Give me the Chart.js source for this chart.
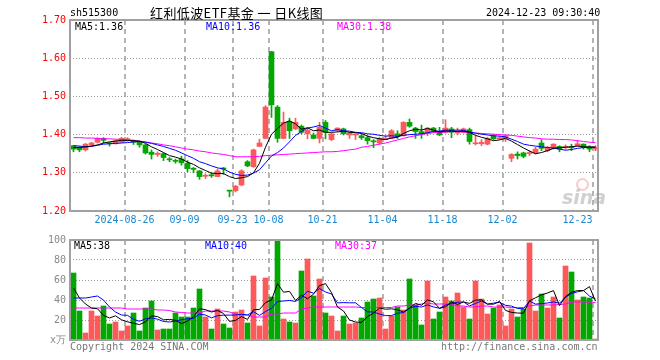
<!DOCTYPE html>
<html>
<head>
<meta charset="utf-8">
<script src="https://cdn.jsdelivr.net/npm/chart.js@4"></script>
<style>
  body { margin: 0; background: #fff; width: 660px; height: 360px; overflow: hidden; position: relative; }
  canvas { position: absolute; left: 0; }
  .t { position: absolute; white-space: nowrap; font: 10px/12px "DejaVu Sans Mono", monospace; }
  .cn { font: 13px/16px "Noto Sans CJK SC", sans-serif; letter-spacing: 0.4px; }
</style>
</head>
<body>
<canvas id="kline" width="660" height="230" style="top:0"></canvas>
<canvas id="volume" width="660" height="130" style="top:230px"></canvas>

<div class="t" style="left:70px;top:7px">sh515300</div>
<div class="t cn" style="left:150px;top:5px">红利低波ETF基金 一 日K线图</div>
<div class="t" style="left:486px;top:7px">2024-12-23 09:30:40</div>
<div class="t" style="left:75px;top:21px;color:#000">MA5:1.36</div>
<div class="t" style="left:206px;top:21px;color:#0000ff">MA10:1.36</div>
<div class="t" style="left:337px;top:21px;color:#ff00ff">MA30:1.38</div>
<div class="t" style="left:74px;top:240px;color:#000">MA5:38</div>
<div class="t" style="left:205px;top:240px;color:#0000ff">MA10:40</div>
<div class="t" style="left:335px;top:240px;color:#ff00ff">MA30:37</div>
<div class="t" style="left:70px;top:341px;color:#777">Copyright 2024 SINA.COM</div>
<div class="t" style="left:441px;top:341px;color:#777">http://finance.sina.com.cn</div>
<div class="t" style="left:576px;top:178px;width:9px;height:9px;border:2px solid rgba(240,140,140,0.45);border-radius:50%"></div>
<div class="t" style="left:562px;top:187px;font:italic bold 19px/20px 'DejaVu Sans',sans-serif;color:rgba(150,150,150,0.45)">sina</div>

<script>
// trading days shown (2024)
const days = [
  '08-13','08-14','08-15','08-16','08-19','08-20','08-21','08-22','08-23','08-26','08-27','08-28','08-29','08-30',
  '09-02','09-03','09-04','09-05','09-06','09-09','09-10','09-11','09-12','09-13','09-18','09-19','09-20',
  '09-23','09-24','09-25','09-26','09-27','09-30',
  '10-08','10-09','10-10','10-11','10-14','10-15','10-16','10-17','10-18','10-21','10-22','10-23','10-24','10-25',
  '10-28','10-29','10-30','10-31',
  '11-01','11-04','11-05','11-06','11-07','11-08','11-11','11-12','11-13','11-14','11-15','11-18','11-19','11-20',
  '11-21','11-22','11-25','11-26','11-27','11-28','11-29',
  '12-02','12-03','12-04','12-05','12-06','12-09','12-10','12-11','12-12','12-13','12-16','12-17','12-18','12-19',
  '12-20','12-23'
];

const open = [
  1.371,1.367,1.360,1.373,1.380,1.390,1.378,1.376,1.380,1.385,
  1.384,1.381,1.373,1.354,1.348,1.350,1.335,1.332,1.336,1.325,
  1.312,1.305,1.291,1.295,1.290,1.312,1.253,1.253,1.268,1.329,
  1.316,1.369,1.390,1.617,1.472,1.390,1.434,1.415,1.422,1.402,
  1.399,1.390,1.432,1.387,1.411,1.415,1.399,1.399,1.397,1.392,
  1.383,1.378,1.387,1.390,1.402,1.397,1.432,1.417,1.408,1.404,
  1.417,1.408,1.406,1.415,1.404,1.406,1.413,1.376,1.376,1.375,
  1.397,1.389,1.390,1.338,1.349,1.352,1.350,1.352,1.378,1.358,
  1.364,1.369,1.366,1.367,1.371,1.375,1.367,1.362
];
const high = [
  1.372,1.369,1.377,1.380,1.392,1.392,1.380,1.386,1.393,1.392,
  1.386,1.383,1.375,1.360,1.355,1.352,1.340,1.336,1.343,1.332,
  1.314,1.306,1.297,1.300,1.310,1.314,1.254,1.267,1.308,1.332,
  1.362,1.388,1.476,1.618,1.476,1.459,1.443,1.443,1.425,1.417,
  1.404,1.432,1.437,1.404,1.418,1.417,1.406,1.402,1.402,1.397,
  1.387,1.393,1.397,1.413,1.410,1.434,1.441,1.419,1.425,1.419,
  1.419,1.419,1.439,1.419,1.417,1.417,1.417,1.397,1.387,1.393,
  1.401,1.396,1.400,1.350,1.355,1.354,1.358,1.367,1.387,1.369,
  1.376,1.371,1.373,1.375,1.384,1.376,1.371,1.371
];
const low = [
  1.355,1.355,1.357,1.371,1.378,1.378,1.370,1.375,1.379,1.382,
  1.374,1.367,1.349,1.336,1.343,1.332,1.329,1.325,1.320,1.303,
  1.300,1.283,1.285,1.288,1.290,1.296,1.237,1.250,1.266,1.316,
  1.314,1.369,1.389,1.445,1.380,1.389,1.390,1.413,1.402,1.389,
  1.389,1.378,1.389,1.384,1.408,1.399,1.390,1.387,1.387,1.375,
  1.366,1.375,1.387,1.389,1.390,1.396,1.419,1.390,1.390,1.397,
  1.406,1.397,1.404,1.392,1.399,1.404,1.375,1.373,1.371,1.373,
  1.387,1.387,1.382,1.329,1.336,1.339,1.345,1.349,1.358,1.355,
  1.362,1.355,1.362,1.358,1.369,1.362,1.355,1.358
];
const close = [
  1.362,1.360,1.375,1.378,1.390,1.385,1.376,1.384,1.390,1.389,
  1.380,1.373,1.352,1.348,1.351,1.340,1.334,1.330,1.326,1.311,
  1.309,1.290,1.293,1.292,1.305,1.310,1.252,1.265,1.305,1.318,
  1.360,1.378,1.472,1.478,1.390,1.432,1.410,1.432,1.406,1.411,
  1.390,1.419,1.406,1.402,1.417,1.402,1.404,1.400,1.392,1.384,
  1.381,1.390,1.389,1.410,1.396,1.432,1.422,1.408,1.403,1.417,
  1.408,1.399,1.417,1.406,1.410,1.415,1.382,1.378,1.380,1.390,
  1.389,1.392,1.397,1.348,1.345,1.343,1.353,1.362,1.364,1.367,
  1.375,1.362,1.369,1.366,1.376,1.367,1.362,1.366
];

const ma5 = [
  1.366,1.366,1.368,1.370,1.373,1.378,1.381,1.383,1.385,1.385,
  1.384,1.383,1.377,1.368,1.361,1.353,1.345,1.341,1.336,1.328,
  1.322,1.313,1.306,1.299,1.298,1.298,1.290,1.285,1.287,1.290,
  1.300,1.325,1.367,1.401,1.416,1.430,1.436,1.428,1.414,1.418,
  1.410,1.412,1.406,1.406,1.407,1.409,1.406,1.405,1.403,1.396,
  1.392,1.389,1.387,1.391,1.393,1.403,1.410,1.414,1.412,1.416,
  1.412,1.407,1.409,1.409,1.408,1.409,1.406,1.398,1.393,1.389,
  1.384,1.386,1.390,1.383,1.374,1.365,1.357,1.350,1.353,1.358,
  1.364,1.366,1.367,1.368,1.370,1.368,1.368,1.367
];
const ma10 = [
  1.371,1.370,1.368,1.369,1.372,1.375,1.376,1.377,1.378,1.379,
  1.381,1.382,1.380,1.377,1.373,1.369,1.364,1.359,1.352,1.345,
  1.338,1.329,1.324,1.318,1.313,1.310,1.302,1.296,1.293,1.294,
  1.299,1.308,1.326,1.344,1.353,1.365,1.381,1.398,1.408,1.417,
  1.420,1.424,1.417,1.410,1.413,1.410,1.409,1.406,1.405,1.402,
  1.401,1.398,1.396,1.397,1.395,1.398,1.400,1.401,1.402,1.405,
  1.408,1.409,1.412,1.411,1.412,1.411,1.407,1.404,1.401,1.399,
  1.397,1.396,1.394,1.388,1.382,1.375,1.372,1.370,1.368,1.366,
  1.365,1.362,1.359,1.361,1.364,1.366,1.367,1.367
];
const ma30 = [
  1.392,1.392,1.391,1.391,1.390,1.389,1.389,1.388,1.387,1.386,
  1.385,1.383,1.381,1.378,1.376,1.373,1.371,1.368,1.365,1.362,
  1.360,1.357,1.355,1.352,1.350,1.348,1.345,1.342,1.342,1.342,
  1.342,1.343,1.345,1.346,1.347,1.348,1.349,1.350,1.351,1.352,
  1.353,1.354,1.355,1.355,1.356,1.358,1.360,1.362,1.367,1.369,
  1.372,1.375,1.378,1.382,1.386,1.390,1.394,1.397,1.400,1.403,
  1.405,1.406,1.407,1.408,1.408,1.407,1.405,1.404,1.403,1.402,
  1.401,1.400,1.399,1.398,1.396,1.394,1.392,1.391,1.389,1.388,
  1.388,1.387,1.387,1.386,1.384,1.382,1.380,1.379
];

// volume, 万手
const vol = [
  67,29,7,29,24,34,16,18,9,14,
  27,9,32,39,10,11,11,27,23,23,
  32,51,23,11,31,16,12,28,30,17,
  64,14,62,43,99,21,18,17,69,81,
  44,61,27,24,9,24,16,17,22,38,
  41,42,11,24,33,30,61,35,15,59,
  21,28,43,39,47,33,21,59,41,26,
  32,35,14,31,23,31,97,29,46,32,
  43,22,74,68,40,43,42,1
];
const volMa5 = [
  52,42,36,32,31.2,24.6,22,24.2,20.2,18.2,
  16.8,15.4,18.2,24.2,23.4,20.2,20.6,19.6,16.4,19,
  23.2,31.2,30.4,28,29.6,26.4,18.6,19.6,23.4,20.6,
  30.2,30.6,37.4,40,56.4,47.8,48.6,39.6,44.8,41.2,
  45.8,54.4,56.4,47.4,33,29,20,18,17.6,23.4,
  26.8,32,30.8,31.2,30.2,28,31.8,36.6,34.8,40,
  38.2,31.6,33.2,38,35.6,38,36.6,39.8,40.2,36,
  35.8,38.6,29.6,27.6,27,26.8,39.2,42.2,45.2,47,
  49.4,34.4,43.4,47.8,49.4,49.4,53.4,38.8
];
const volMa10 = [
  42,42,42,43,44,40,33,28,25,24.7,
  20.7,18.7,21.2,22.2,20.8,18.5,18,18.9,20.3,21.2,
  21.7,25.9,25,22.2,24.3,24.8,24.9,25,25.7,25.1,
  28.3,24.6,28.5,31.7,38.5,39,39.6,38.5,42.4,48.8,
  46.8,51.5,48,46.1,37.1,37.4,37.2,37.2,32.5,28.2,
  27.9,26,24.4,24.4,26.8,27.4,31.9,33.7,33,35.1,
  33.1,31.7,34.9,36.4,37.8,38.1,34.1,36.5,39.1,35.8,
  36.9,37.6,34.7,33.9,31.5,31.3,38.9,35.9,36.4,37,
  38.1,36.8,42.8,46.5,48.2,49.4,43.9,41.1
];
const volMa30 = [
  32,32,32,32,32,32,32,32,32,31,
  31,31,31,31,30,30,29.5,28,27.5,27,
  27,27,29,29,29,29,28,26,25,25,
  23,23,23,26,26,27,27,27,31,32,
  33,33,33,33,33,33,33,33,32.5,32.5,
  32.5,32.5,32.5,32.5,34,34,35,35,36,37,
  36,36,36,36,34,34,33,33,34,34,
  33,33,33,32.5,32.5,32.5,34,35,35,35,
  35,35.5,36,38,38,38,38,37.5
];

const tickDays = ['08-26','09-09','09-23','10-08','10-21','11-04','11-18','12-02','12-23'];
const tickLabels = ['2024-08-26','09-09','09-23','10-08','10-21','11-04','11-18','12-02','12-23'];
const priceTicks = [1.2, 1.3, 1.4, 1.5, 1.6, 1.7];
const volTicks = [0, 20, 40, 60, 80, 100];

const RED = '#ff5858', GREEN = '#00a800';
const candleColor = close.map((c, i) => c >= open[i] ? RED : GREEN);
const xs = days.map((d, i) => i + 0.5);
const pts = arr => arr.map((y, i) => ({ x: xs[i], y: y }));
const gridIdx = tickDays.map(d => days.indexOf(d));
// last label is pulled left so it ends on its grid line
const labelPos = gridIdx.map((v, i) => i === gridIdx.length - 1 ? v - 2.5 : v);
const X0 = -1 / 12, X1 = days.length - 1 / 12;

Chart.defaults.font.family = '"DejaVu Sans Mono", monospace';
Chart.defaults.font.size = 10;

const frame = {
  id: 'frame',
  afterDatasetsDraw(chart) {
    const a = chart.chartArea, ctx = chart.ctx;
    ctx.save();
    ctx.strokeStyle = '#a0a0a0';
    ctx.lineWidth = 2;
    ctx.strokeRect(a.left, a.top, a.right - a.left, a.bottom - a.top);
    ctx.restore();
  }
};

function xGrid(h) {
  return {
    type: 'linear', min: X0, max: X1, offset: false,
    grid: { color: '#b4b4b4', lineWidth: 2, drawTicks: false, offset: false },
    border: { display: false, dash: [5, 4] },
    ticks: { display: false },
    afterBuildTicks: s => { s.ticks = gridIdx.map(v => ({ value: v })); },
    afterFit: s => { s.height = h; }
  };
}

function line(data, color) {
  return { type: 'line', data: pts(data), borderColor: color, borderWidth: 1,
           pointRadius: 0, tension: 0, order: 0 };
}

const common = {
  responsive: false,
  animation: false,
  events: [],
  plugins: { legend: { display: false }, tooltip: { enabled: false } }
};

new Chart(document.getElementById('kline'), {
  type: 'bar',
  data: {
    datasets: [
      line(ma5, '#000000'),
      line(ma10, '#0000ff'),
      line(ma30, '#ff00ff'),
      { data: xs.map((x, i) => ({ x: x, y: [low[i], high[i]] })), backgroundColor: candleColor,
        barThickness: 1, grouped: false, order: 2 },
      { data: xs.map((x, i) => ({ x: x, y: [open[i], close[i]] })), backgroundColor: candleColor,
        barThickness: 5, minBarLength: 1, grouped: false, order: 1 }
    ]
  },
  options: Object.assign({}, common, {
    layout: { padding: { left: 0, right: 62, top: 20, bottom: 0 } },
    scales: {
      x: xGrid(0),
      xl: {
        type: 'linear', position: 'bottom', min: X0, max: X1, offset: false,
        grid: { display: false, drawTicks: false },
        border: { display: false },
        ticks: { color: '#1a86d0', padding: 3, autoSkip: false, maxRotation: 0,
                 callback: (v, i) => tickLabels[i] },
        afterBuildTicks: s => { s.ticks = labelPos.map(v => ({ value: v })); },
        afterFit: s => { s.height = 19; }
      },
      y: {
        min: 1.2, max: 1.7,
        grid: { color: '#999999', drawTicks: false },
        border: { display: false, dash: [1, 2] },
        ticks: { color: '#ff0000', padding: 4, callback: v => v.toFixed(2) },
        afterBuildTicks: s => { s.ticks = priceTicks.map(v => ({ value: v })); },
        afterFit: s => { s.width = 70; }
      }
    }
  }),
  plugins: [frame]
});

new Chart(document.getElementById('volume'), {
  type: 'bar',
  data: {
    datasets: [
      line(volMa5, '#000000'),
      line(volMa10, '#0000ff'),
      line(volMa30, '#ff00ff'),
      { data: xs.map((x, i) => ({ x: x, y: vol[i] })), backgroundColor: candleColor,
        barThickness: 5, grouped: false, order: 1 }
    ]
  },
  options: Object.assign({}, common, {
    layout: { padding: { left: 0, right: 62, top: 10, bottom: 0 } },
    scales: {
      x: xGrid(20),
      y: {
        min: 0, max: 100,
        grid: { color: '#999999', drawTicks: false },
        border: { display: false, dash: [1, 2] },
        ticks: { color: '#888888', padding: 4, callback: v => v === 0 ? 'x万' : String(v) },
        afterBuildTicks: s => { s.ticks = volTicks.map(v => ({ value: v })); },
        afterFit: s => { s.width = 70; }
      }
    }
  }),
  plugins: [frame]
});
</script>
</body>
</html>
